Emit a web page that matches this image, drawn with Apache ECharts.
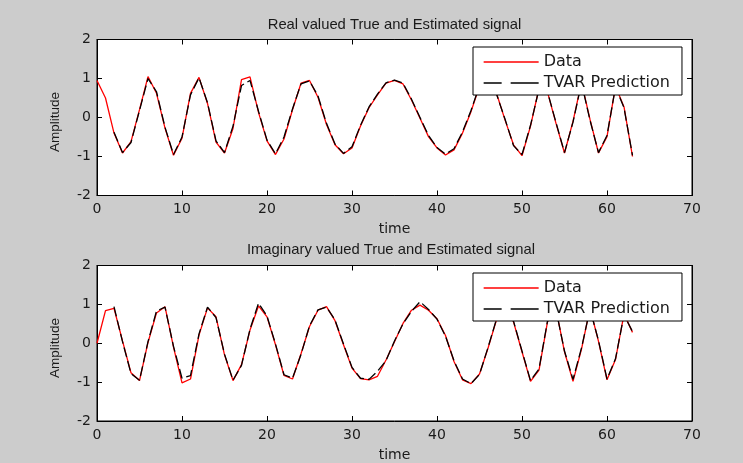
<!DOCTYPE html>
<html>
<head>
<meta charset="utf-8">
<script src="https://cdn.jsdelivr.net/npm/echarts@6/dist/echarts.min.js"></script>
<style>
html,body{margin:0;padding:0;background:#cccccc;}
#chart{width:743px;height:463px;}
</style>
</head>
<body>
<div id="chart"></div>
<script>
const time = [0,1,2,3,4,5,6,7,8,9,10,11,12,13,14,15,16,17,18,19,20,21,22,23,24,25,26,27,28,29,30,31,32,33,34,35,36,37,38,39,40,41,42,43,44,45,46,47,48,49,50,51,52,53,54,55,56,57,58,59,60,61,62,63];

const realData = [0.95,0.50,-0.40,-0.91,-0.62,0.20,1.05,0.62,-0.27,-0.97,-0.53,0.62,1.03,0.36,-0.63,-0.91,-0.28,0.97,1.04,0.13,-0.60,-0.95,-0.55,0.20,0.88,0.95,0.52,-0.18,-0.70,-0.93,-0.78,-0.22,0.25,0.58,0.88,0.95,0.86,0.45,-0.02,-0.49,-0.78,-0.96,-0.83,-0.40,0.15,0.80,1.00,0.62,-0.06,-0.70,-0.98,-0.22,0.75,0.65,-0.15,-0.91,-0.10,0.90,-0.05,-0.91,-0.49,0.80,0.27,-1.00];

const realPred = [null,null,-0.38,-0.90,-0.64,0.18,1.00,0.66,-0.25,-0.95,-0.50,0.58,1.02,0.38,-0.60,-0.90,-0.22,0.82,0.95,0.16,-0.58,-0.93,-0.50,0.22,0.86,0.94,0.55,-0.15,-0.68,-0.92,-0.75,-0.20,0.27,0.60,0.89,0.96,0.88,0.47,0.00,-0.46,-0.77,-0.94,-0.80,-0.37,0.18,0.82,0.98,0.60,-0.04,-0.72,-0.95,-0.20,0.73,0.66,-0.13,-0.90,-0.12,0.88,-0.07,-0.90,-0.46,0.78,0.25,-0.97];

const imagData = [0.00,0.84,0.90,0.06,-0.76,-0.96,0.02,0.78,0.94,-0.10,-1.02,-0.92,0.21,0.91,0.68,-0.30,-0.96,-0.55,0.34,0.96,0.68,-0.04,-0.83,-0.92,-0.27,0.43,0.85,0.94,0.58,-0.04,-0.64,-0.91,-0.94,-0.85,-0.43,0.04,0.51,0.85,0.98,0.85,0.63,0.20,-0.47,-0.94,-1.04,-0.79,-0.13,0.60,0.98,0.55,-0.22,-0.98,-0.69,0.55,0.88,-0.22,-0.98,-0.15,0.90,0.05,-0.94,-0.42,0.75,0.28];

const imagPred = [null,null,0.94,0.04,-0.78,-0.95,0.04,0.83,0.93,-0.08,-0.90,-0.83,0.24,0.93,0.66,-0.28,-0.95,-0.57,0.36,1.03,0.70,-0.02,-0.81,-0.90,-0.29,0.45,0.86,0.93,0.60,-0.02,-0.62,-0.90,-0.93,-0.72,-0.45,0.06,0.50,0.82,1.07,0.87,0.62,0.18,-0.45,-0.92,-1.04,-0.80,-0.11,0.62,0.97,0.57,-0.20,-0.96,-0.66,0.57,0.86,-0.20,-0.93,-0.12,0.88,0.07,-0.92,-0.40,0.73,0.30];

const xTicks = [0,10,20,30,40,50,60,70];
const yTicks = [-2,-1,0,1,2];
const titles = ['Real valued True and Estimated signal','Imaginary valued True and Estimated signal'];
const seriesNames = ['Data','TVAR Prediction'];
const xName = 'time';
const yName = 'Amplitude';

const pairs = (arr) => time.map((t,i) => [t, arr[i]]);

const chart = echarts.init(document.getElementById('chart'), null, {renderer:'canvas'});

const tickFont = {fontFamily:'DejaVu Sans', fontSize:14, color:'#1a1a1a'};
const grids = [
  {left:97, top:39.5, width:595, height:156},
  {left:97, top:265.5, width:595, height:156}
];

function xAxes(gi){
  return [
    {type:'value', gridIndex:gi, min:xTicks[0], max:xTicks[xTicks.length-1], interval:10, position:'bottom',
     name:xName, nameLocation:'middle', nameGap:27,
     nameTextStyle:{fontFamily:'DejaVu Sans', fontSize:14, color:'#1a1a1a'},
     axisLine:{show:true, onZero:false, lineStyle:{color:'#000'}},
     axisTick:{show:true, inside:true, length:5, lineStyle:{color:'#000'}},
     axisLabel:Object.assign({margin:7}, tickFont),
     splitLine:{show:false}},
    {type:'value', gridIndex:gi, min:xTicks[0], max:xTicks[xTicks.length-1], interval:10, position:'top',
     axisLine:{show:true, onZero:false, lineStyle:{color:'#000'}},
     axisTick:{show:true, inside:true, length:5, lineStyle:{color:'#000'}},
     axisLabel:{show:false}, splitLine:{show:false}}
  ];
}
function yAxes(gi){
  return [
    {type:'value', gridIndex:gi, min:yTicks[0], max:yTicks[yTicks.length-1], interval:1, position:'left',
     axisLine:{show:true, onZero:false, lineStyle:{color:'#000'}},
     axisTick:{show:true, inside:true, length:5, lineStyle:{color:'#000'}},
     axisLabel:Object.assign({margin:6}, tickFont),
     splitLine:{show:false}},
    {type:'value', gridIndex:gi, min:yTicks[0], max:yTicks[yTicks.length-1], interval:1, position:'right',
     axisLine:{show:true, onZero:false, lineStyle:{color:'#000'}},
     axisTick:{show:true, inside:true, length:5, lineStyle:{color:'#000'}},
     axisLabel:{show:false}, splitLine:{show:false}}
  ];
}

function legendFor(top){
  return {
    show:true, orient:'vertical', left:473, top:top,
    data:[
      {name:seriesNames[0], lineStyle:{color:'#ff0000', width:1.3, type:'solid'}},
      {name:seriesNames[1], lineStyle:{color:'#000000', width:1.3, type:[18,9,30,9]}}
    ],
    itemWidth:55, itemHeight:16, itemGap:5,
    padding:[7,12,4,10],
    itemStyle:{opacity:0},
    backgroundColor:'#ffffff', borderColor:'#000', borderWidth:1, borderRadius:0,
    textStyle:{fontFamily:'DejaVu Sans', fontSize:16, color:'#1a1a1a'},
    selectedMode:false
  };
}

const labelStyle = {fontFamily:'Liberation Sans', fontSize:13.5, fill:'#1a1a1a', align:'center', verticalAlign:'middle'};

const option = {
  backgroundColor:'#cccccc',
  animation:false,
  title:[
    {text:titles[0], left:389.5, top:12, textAlign:'center',
     textStyle:{fontFamily:'Liberation Sans', fontSize:14.8, fontWeight:'normal', color:'#1a1a1a'}},
    {text:titles[1], left:386, top:237, textAlign:'center',
     textStyle:{fontFamily:'Liberation Sans', fontSize:14.8, fontWeight:'normal', color:'#1a1a1a'}}
  ],
  graphic:[
    {type:'text', x:55, y:122, rotation:Math.PI/2, style:Object.assign({text:yName}, labelStyle)},
    {type:'text', x:55, y:348, rotation:Math.PI/2, style:Object.assign({text:yName}, labelStyle)}
  ],
  grid:grids.map(g => Object.assign({show:true, backgroundColor:'#ffffff', borderColor:'#000', borderWidth:1}, g)),
  xAxis:[...xAxes(0), ...xAxes(1)],
  yAxis:[...yAxes(0), ...yAxes(1)],
  legend:[legendFor(47), legendFor(273)],
  series:[
    {name:seriesNames[0], type:'line', xAxisIndex:0, yAxisIndex:0, data:pairs(realData),
     showSymbol:false, symbol:'none', lineStyle:{color:'#ff0000', width:1.3}, itemStyle:{color:'#ff0000'}},
    {name:seriesNames[1], type:'line', xAxisIndex:0, yAxisIndex:0, data:pairs(realPred),
     showSymbol:false, symbol:'none', lineStyle:{color:'#000000', width:1.3, type:[10,4]}, itemStyle:{color:'#000000'}},
    {name:seriesNames[0], type:'line', xAxisIndex:2, yAxisIndex:2, data:pairs(imagData),
     showSymbol:false, symbol:'none', lineStyle:{color:'#ff0000', width:1.3}, itemStyle:{color:'#ff0000'}},
    {name:seriesNames[1], type:'line', xAxisIndex:2, yAxisIndex:2, data:pairs(imagPred),
     showSymbol:false, symbol:'none', lineStyle:{color:'#000000', width:1.3, type:[10,4]}, itemStyle:{color:'#000000'}}
  ]
};
chart.setOption(option);
</script>
</body>
</html>
